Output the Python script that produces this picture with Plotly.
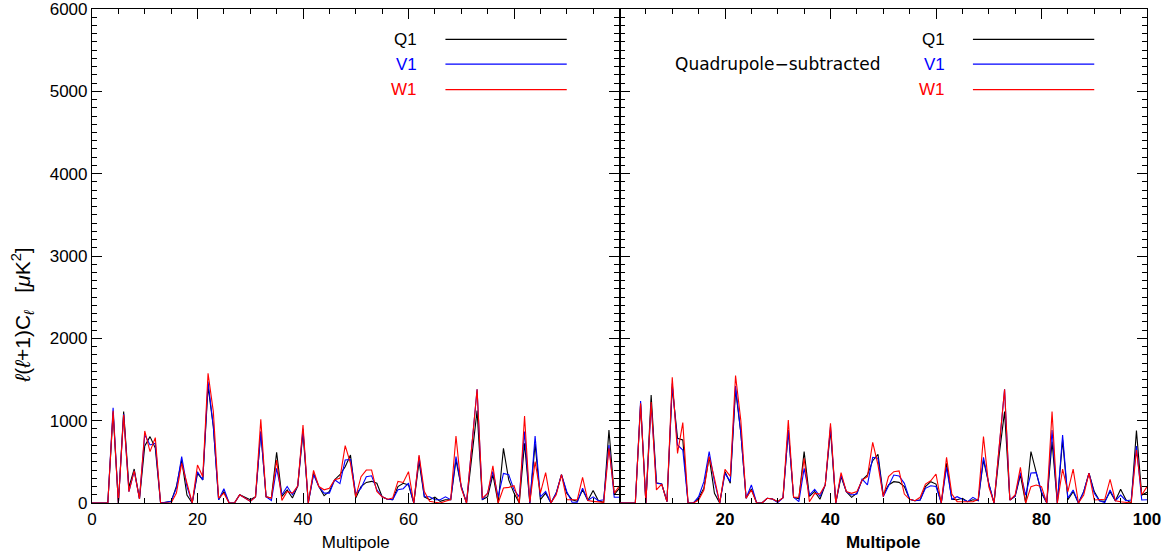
import plotly.graph_objects as go

# multipole index
ell = list(range(0, 101))

# left panel: raw maps
q1_raw = [0, 0, 0, 0, 1100, 0, 1110, 190, 413, 50,
          693, 806, 667, 0, 10, 20, 200, 522, 97, 0,
          360, 280, 1415, 929, 40, 140, 0, 0, 100, 65,
          40, 75, 867, 75, 60, 616, 80, 160, 60, 205,
          860, 0, 360, 200, 89, 140, 283, 344, 441, 583,
          60, 200, 250, 263, 240, 75, 45, 40, 200, 240,
          220, 0, 502, 75, 40, 70, 20, 40, 40, 522,
          200, 0, 600, 1122, 40, 75, 345, 0, 664, 280,
          120, 0, 725, 0, 720, 40, 120, 0, 120, 344,
          120, 40, 20, 160, 30, 153, 28, 8, 887, 100, 180]
v1_raw = [0, 0, 0, 0, 1158, 0, 1080, 137, 390, 50,
          830, 705, 725, 0, 10, 20, 180, 563, 200, 0,
          380, 280, 1475, 929, 40, 174, 0, 0, 100, 65,
          20, 75, 867, 75, 30, 420, 100, 200, 100, 205,
          900, 0, 345, 200, 120, 120, 283, 235, 522, 530,
          110, 180, 320, 330, 160, 75, 45, 40, 160, 174,
          240, 0, 563, 75, 75, 40, 40, 75, 40, 563,
          200, 0, 650, 1381, 40, 120, 385, 75, 360, 344,
          160, 75, 867, 0, 814, 75, 140, 0, 120, 344,
          140, 10, 10, 180, 30, 75, 28, 40, 705, 70, 70]
w1_raw = [0, 0, 0, 0, 1121, 0, 1070, 137, 390, 50,
          875, 624, 794, 0, 0, 0, 120, 482, 240, 0,
          462, 320, 1575, 1110, 60, 120, 0, 0, 100, 65,
          20, 75, 1017, 75, 60, 522, 32, 140, 120, 205,
          948, 0, 397, 200, 160, 180, 283, 300, 697, 482,
          75, 320, 400, 400, 140, 75, 45, 60, 263, 250,
          380, 0, 583, 140, 20, 10, 0, 20, 40, 814,
          180, 0, 700, 1381, 60, 115, 450, 0, 182, 190,
          210, 0, 1057, 8, 502, 120, 370, 0, 100, 344,
          40, 40, 40, 312, 30, 20, 10, 8, 664, 120, 210]

# right panel: quadrupole-subtracted maps
q1_sub = [0, 0, 0, 0, 1200, 0, 1312, 247, 230, 16,
          1413, 786, 765, 0, 0, 60, 180, 560, 117, 0,
          380, 240, 1380, 850, 57, 170, 0, 0, 57, 49,
          16, 65, 887, 69, 50, 624, 80, 140, 45, 219,
          887, 0, 320, 138, 69, 120, 279, 340, 514, 591,
          100, 219, 259, 251, 199, 45, 28, 36, 200, 259,
          230, 0, 482, 45, 40, 57, 16, 40, 30, 522,
          239, 0, 600, 1110, 36, 80, 340, 0, 624, 380,
          120, 0, 745, 0, 765, 40, 138, 0, 138, 364,
          138, 28, 20, 138, 28, 166, 40, 0, 879, 97, 130]
v1_sub = [0, 0, 0, 0, 1239, 0, 1200, 239, 230, 16,
          1450, 705, 644, 0, 0, 77, 259, 624, 259, 0,
          360, 260, 1421, 850, 57, 219, 0, 0, 57, 49,
          5, 65, 887, 69, 16, 421, 97, 166, 80, 219,
          930, 0, 340, 138, 97, 109, 290, 219, 555, 543,
          77, 199, 340, 328, 239, 45, 28, 36, 178, 210,
          200, 0, 433, 45, 77, 45, 16, 69, 30, 555,
          239, 0, 650, 1381, 36, 85, 369, 97, 364, 369,
          138, 0, 887, 0, 826, 57, 158, 0, 138, 364,
          117, 28, 5, 158, 28, 97, 28, 36, 693, 36, 40]
w1_sub = [0, 0, 0, 0, 1211, 0, 1227, 158, 230, 16,
          1527, 603, 976, 0, 0, 36, 158, 563, 300, 0,
          409, 324, 1547, 1000, 57, 158, 0, 0, 57, 49,
          16, 65, 1008, 69, 69, 543, 16, 117, 109, 219,
          968, 0, 369, 138, 117, 138, 279, 320, 737, 462,
          77, 320, 380, 389, 109, 45, 28, 69, 230, 270,
          352, 0, 555, 109, 16, 16, 16, 16, 45, 806,
          199, 0, 700, 1381, 36, 97, 433, 0, 199, 219,
          199, 0, 1110, 0, 412, 138, 412, 0, 97, 364,
          36, 45, 45, 287, 28, 16, 10, 0, 644, 97, 199]

band_names = ["Q1", "V1", "W1"]
band_colors = ["black", "#0000ff", "#ff0000"]

left_ticks = [0, 20, 40, 60, 80]
right_ticks = [20, 40, 60, 80, 100]
y_ticks = [0, 1000, 2000, 3000, 4000, 5000, 6000]

FONT = "Liberation Sans"

fig = go.Figure()

for name, color, ys in zip(band_names, band_colors, [q1_raw, v1_raw, w1_raw]):
    fig.add_trace(go.Scatter(x=ell, y=ys, mode="lines", name=name,
                             line=dict(color=color, width=1.1),
                             xaxis="x", yaxis="y", showlegend=False))
for name, color, ys in zip(band_names, band_colors, [q1_sub, v1_sub, w1_sub]):
    fig.add_trace(go.Scatter(x=ell, y=ys, mode="lines", name=name,
                             line=dict(color=color, width=1.1),
                             xaxis="x2", yaxis="y2", showlegend=False))

axis_common = dict(showgrid=False, zeroline=False, showline=True, linecolor="black",
                   linewidth=1.2, ticks="inside", mirror="ticks", tickcolor="black",
                   tickwidth=1, ticklen=10, automargin=False,
                   ticklabeloverflow="allow")
tick_font = dict(family=FONT, size=17, color="black")

fig.update_layout(
    width=1167, height=559,
    paper_bgcolor="white", plot_bgcolor="white",
    margin=dict(l=92, r=20, t=9, b=56),
    font=dict(family=FONT, color="black"),
    xaxis=dict(domain=[0, 0.5], range=[0, 100], anchor="y",
               tickvals=left_ticks, tickfont=tick_font,
               minor=dict(ticks="inside", dtick=5, ticklen=5, tickcolor="black"),
               title=dict(text="Multipole", font=dict(size=17), standoff=8),
               **axis_common),
    xaxis2=dict(domain=[0.5, 1], range=[0, 100], anchor="y2",
                tickvals=right_ticks,
                tickfont=dict(family=FONT, size=17, color="black", weight="bold"),
                minor=dict(ticks="inside", dtick=5, ticklen=5, tickcolor="black"),
                title=dict(text="Multipole", font=dict(size=17, weight="bold"), standoff=8),
                **axis_common),
    yaxis=dict(range=[0, 6000], anchor="x", tickvals=y_ticks, tickfont=tick_font,
               minor=dict(ticks="inside", dtick=100, ticklen=5, tickcolor="black"),
               **axis_common),
    yaxis2=dict(range=[0, 6000], anchor="x2", tickvals=y_ticks, showticklabels=False,
                minor=dict(ticks="inside", dtick=100, ticklen=5, tickcolor="black"),
                **axis_common),
)

# y title placed like the original (sits below the axis centre)
fig.add_annotation(x=-0.066, y=0.38, xref="paper", yref="paper", textangle=-90,
                   text="<i>ℓ</i>(<i>ℓ</i>+1)C<sub><i>ℓ</i></sub>   [<i>μ</i>K<sup>2</sup>]",
                   showarrow=False, xanchor="center", yanchor="middle",
                   font=dict(family=FONT, size=21, color="black"))

# legend drawn IDL-style: label on the left, line sample on the right
legend_y = [5630, 5330, 5020]
for xa, ya in [("x", "y"), ("x2", "y2")]:
    for name, color, ly in zip(band_names, band_colors, legend_y):
        fig.add_annotation(x=62, y=ly, xref=xa, yref=ya, text=name, showarrow=False,
                           xanchor="right", yanchor="middle",
                           font=dict(family=FONT, size=17, color=color))
        fig.add_shape(type="line", x0=67, x1=90, y0=ly, y1=ly, xref=xa, yref=ya,
                      line=dict(color=color, width=1.3))

fig.add_annotation(x=30, y=5330, xref="x2", yref="y2", text="Quadrupole−subtracted",
                   showarrow=False, xanchor="center", yanchor="middle",
                   font=dict(family="DejaVu Sans", size=17, color="black"))

fig.write_html("out.html", config={"displayModeBar": False},
               post_script="document.body.style.margin='0';")
